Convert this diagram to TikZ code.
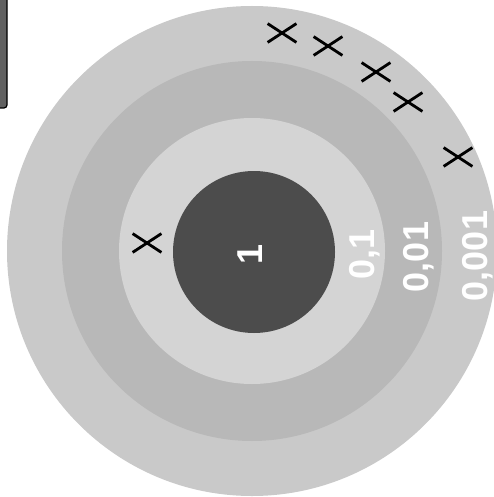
\documentclass[tikz,border=0pt]{standalone}
\usepackage{fontspec}
\setmainfont{Liberation Sans}
\usetikzlibrary{shapes.misc}

\tikzset{
  hit/.style={cross out, draw=black, line width=2.8pt, minimum width=26pt, minimum height=16pt, inner sep=0pt},
  ringlabel/.style={text=white, font=\fontsize{36}{36}\selectfont\bfseries, rotate=90, inner sep=0pt},
}

\begin{document}
\begin{tikzpicture}[x=1pt,y=-1pt]
\useasboundingbox (0,0) rectangle (494,497);

% strip at the left edge
\filldraw[fill=black!62, draw=black, line width=1.2pt, rounded corners=3pt] (-6,-6) rectangle (7,108);

% target rings
\coordinate (c) at (252,251);
\fill[black!21] (c) circle [radius=245pt];
\fill[black!28] (c) circle [radius=190pt];
\fill[black!17] (c) circle [radius=133pt];
\fill[black!70] (254,252) circle [radius=81pt];

% values of the rings
\node[ringlabel] (one) at (250,254) {1};
\node[ringlabel] (p1) at (365,254) {0,1};
\node[ringlabel] (p01) at (419,257) {0,01};
\node[ringlabel] (p001) at (478,256) {0,001};

% hits
\foreach \n/\x/\y in {1/282/33, 2/328/46, 3/376/72, 4/408/102, 5/458/157, 6/147/243}
  \node[hit] (x\n) at (\x,\y) {};
\end{tikzpicture}
\end{document}
